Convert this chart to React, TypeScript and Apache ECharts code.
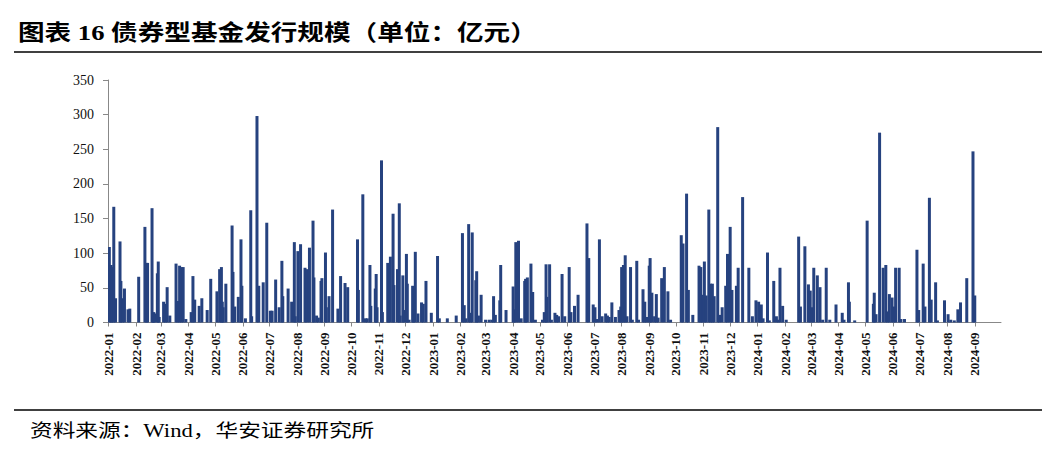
import React, { useEffect, useRef } from "react";
import * as echarts from "echarts";

const issueDates: string[] = [
  "2022-01-02","2022-01-04","2022-01-05","2022-01-07","2022-01-09","2022-01-14","2022-01-15","2022-01-17","2022-01-19","2022-01-23","2022-01-25",
  "2022-02-04","2022-02-11","2022-02-13","2022-02-14","2022-02-19","2022-02-20","2022-02-21","2022-02-22","2022-02-25","2022-02-26","2022-02-27",
  "2022-03-04","2022-03-06","2022-03-08","2022-03-11","2022-03-18","2022-03-20","2022-03-22","2022-03-24","2022-03-26","2022-03-29",
  "2022-04-04","2022-04-06","2022-04-08","2022-04-13","2022-04-16","2022-04-22","2022-04-26",
  "2022-05-03","2022-05-06","2022-05-08","2022-05-09","2022-05-10","2022-05-13","2022-05-20","2022-05-21","2022-05-23","2022-05-27","2022-05-30","2022-05-31",
  "2022-06-04","2022-06-10","2022-06-11","2022-06-17","2022-06-19","2022-06-24","2022-06-28",
  "2022-07-02","2022-07-04","2022-07-08","2022-07-12","2022-07-15","2022-07-16","2022-07-22","2022-07-26","2022-07-29","2022-07-30",
  "2022-08-02","2022-08-05","2022-08-10","2022-08-12","2022-08-15","2022-08-19","2022-08-20","2022-08-23","2022-08-25","2022-08-28","2022-08-29",
  "2022-09-02","2022-09-03","2022-09-06","2022-09-10","2022-09-16","2022-09-19","2022-09-24","2022-09-27",
  "2022-10-08","2022-10-09","2022-10-14","2022-10-17","2022-10-19","2022-10-22","2022-10-23","2022-10-28","2022-10-29","2022-10-30",
  "2022-11-04","2022-11-05","2022-11-11","2022-11-12","2022-11-14","2022-11-17","2022-11-18","2022-11-22","2022-11-24","2022-11-25","2022-11-28","2022-11-29",
  "2022-12-02","2022-12-03","2022-12-05","2022-12-09","2022-12-10","2022-12-12","2022-12-15","2022-12-19","2022-12-21","2022-12-24","2022-12-30",
  "2023-01-06","2023-01-08","2023-01-17","2023-01-27",
  "2023-02-03","2023-02-05","2023-02-07","2023-02-10","2023-02-12","2023-02-14","2023-02-18","2023-02-19","2023-02-21","2023-02-24",
  "2023-03-01","2023-03-05","2023-03-08","2023-03-10","2023-03-12","2023-03-17","2023-03-18","2023-03-24",
  "2023-04-01","2023-04-02","2023-04-04","2023-04-07","2023-04-10","2023-04-14","2023-04-15","2023-04-17","2023-04-21","2023-04-23","2023-04-26",
  "2023-05-04","2023-05-06","2023-05-08","2023-05-09","2023-05-12","2023-05-14","2023-05-18","2023-05-20","2023-05-22","2023-05-26","2023-05-29",
  "2023-06-03","2023-06-05","2023-06-09","2023-06-13","2023-06-23","2023-06-25","2023-06-30",
  "2023-07-02","2023-07-04","2023-07-07","2023-07-10","2023-07-14","2023-07-16","2023-07-18","2023-07-21","2023-07-25","2023-07-29","2023-07-31",
  "2023-08-01","2023-08-03","2023-08-05","2023-08-07","2023-08-11","2023-08-13","2023-08-18","2023-08-20","2023-08-25","2023-08-27","2023-08-29",
  "2023-09-01","2023-09-02","2023-09-04","2023-09-07","2023-09-09","2023-09-11","2023-09-15","2023-09-18","2023-09-22","2023-09-25",
  "2023-10-07","2023-10-09","2023-10-13","2023-10-15","2023-10-20","2023-10-27","2023-10-29","2023-10-31",
  "2023-11-02","2023-11-04","2023-11-07","2023-11-09","2023-11-11","2023-11-13","2023-11-17","2023-11-19","2023-11-22","2023-11-26","2023-11-28",
  "2023-12-01","2023-12-03","2023-12-08","2023-12-10","2023-12-15","2023-12-22","2023-12-26","2023-12-30",
  "2024-01-02","2024-01-04","2024-01-05","2024-01-07","2024-01-12","2024-01-14","2024-01-19","2024-01-22","2024-01-24","2024-01-26","2024-01-29",
  "2024-02-02","2024-02-16","2024-02-18","2024-02-23","2024-02-27","2024-02-29",
  "2024-03-02","2024-03-04","2024-03-08","2024-03-11","2024-03-14","2024-03-18","2024-03-22","2024-03-29",
  "2024-04-05","2024-04-07","2024-04-12","2024-04-13","2024-04-19",
  "2024-05-03","2024-05-10","2024-05-11","2024-05-13","2024-05-17","2024-05-21","2024-05-24","2024-05-26","2024-05-28","2024-05-31",
  "2024-06-02","2024-06-04","2024-06-08","2024-06-10","2024-06-14","2024-06-28","2024-06-30",
  "2024-07-05","2024-07-07","2024-07-12","2024-07-14","2024-07-19","2024-07-21","2024-07-29",
  "2024-08-02","2024-08-05","2024-08-09","2024-08-13","2024-08-16","2024-08-23","2024-08-30",
  "2024-09-01",
];

const issueAmounts: number[] = [
  109,83,80,167,35,117,60,35,49,19,20,
  66,138,86,86,165,8,15,13,71,88,8,
  30,27,51,10,85,31,82,80,80,5,
  15,67,33,24,35,18,63,
  45,77,80,30,22,56,140,73,23,37,120,53,
  6,162,9,298,53,58,144,
  17,17,62,22,89,38,49,30,116,9,
  103,113,79,77,108,147,65,10,7,60,64,
  101,22,38,163,20,67,57,51,
  120,47,185,6,6,83,24,49,70,22,
  234,15,86,18,95,157,54,77,172,10,68,18,
  99,56,4,53,19,102,13,29,27,60,14,
  96,6,6,10,
  129,25,6,142,14,130,61,74,10,40,
  4,4,4,38,11,32,83,18,
  52,19,116,118,6,60,63,65,85,44,4,
  4,15,84,37,84,4,14,11,9,70,9,
  80,15,24,40,143,93,26,
  22,5,120,9,13,10,8,29,8,18,23,
  80,83,97,9,80,4,89,4,48,30,8,
  82,93,43,9,41,7,64,80,45,4,
  126,114,186,47,11,82,80,40,
  88,39,163,56,56,38,282,11,22,53,99,
  138,47,53,79,181,79,9,32,
  30,6,26,6,101,3,60,9,4,79,24,
  4,124,23,110,55,46,
  22,79,68,51,4,79,4,26,
  14,4,58,30,3,
  147,27,43,12,274,79,83,16,41,36,
  23,79,79,5,5,105,18,
  85,23,180,33,58,3,32,
  12,4,3,19,29,64,247,
  39,
];

const axisStart = "2022-01-01";
const axisEnd = "2024-09-30";
const yMin = 0;
const yMax = 350;
const yStep = 50;

const titleText = "图表 16 债券型基金发行规模（单位：亿元）";
const sourceText = "资料来源：Wind，华安证券研究所";

function buildDays(start: string, end: string): string[] {
  const out: string[] = [];
  const s = Date.parse(start + "T00:00:00Z");
  const e = Date.parse(end + "T00:00:00Z");
  for (let t = s; t <= e; t += 86400000) {
    out.push(new Date(t).toISOString().slice(0, 10));
  }
  return out;
}

export default function App() {
  const ref = useRef<HTMLDivElement>(null);
  useEffect(() => {
    if (!ref.current) return;
    const chart = echarts.init(ref.current, null, { renderer: "svg" });
    const days = buildDays(axisStart, axisEnd);
    const amountMap = new Map<string, number>();
    issueDates.forEach((d, i) => amountMap.set(d, issueAmounts[i]));
    const values = days.map((d) => (amountMap.has(d) ? amountMap.get(d)! : "-"));
    const isMonthStart = (_i: number, v: string) => v.endsWith("-01");
    const serif = "'Liberation Serif', 'Times New Roman', serif";
    const cjk = "'Liberation Serif', 'Noto Sans CJK SC', serif";

    chart.setOption({
      animation: false,
      backgroundColor: "#ffffff",
      grid: { left: 108, right: 55, top: 80, bottom: 134.5, containLabel: false },
      xAxis: {
        type: "category",
        data: days,
        boundaryGap: true,
        axisLine: { show: true, lineStyle: { color: "#888888", width: 1 } },
        axisTick: {
          show: true,
          interval: isMonthStart,
          alignWithLabel: true,
          length: 4,
          lineStyle: { color: "#888888" },
        },
        axisLabel: {
          interval: isMonthStart,
          formatter: (v: string) => v.slice(0, 7),
          rotate: 90,
          margin: 10,
          fontFamily: serif,
          fontWeight: "bold",
          fontSize: 13,
          color: "#111111",
        },
        splitLine: { show: false },
      },
      yAxis: {
        type: "value",
        min: yMin,
        max: yMax,
        interval: yStep,
        axisLine: { show: true, lineStyle: { color: "#888888", width: 1 } },
        axisTick: { show: true, length: 5, lineStyle: { color: "#888888" } },
        axisLabel: {
          margin: 14,
          fontFamily: serif,
          fontSize: 14,
          color: "#111111",
        },
        splitLine: { show: false },
      },
      series: [
        {
          type: "bar",
          data: values,
          barWidth: 3,
          itemStyle: { color: "#26427f" },
        },
      ],
      graphic: [
        {
          type: "text",
          left: 18,
          top: 21,
          scaleX: 1.21,
          style: {
            text: titleText,
            font: `bold 22px ${cjk}`,
            fill: "#000000",
          },
        },
        {
          type: "line",
          shape: { x1: 14, y1: 52, x2: 1042, y2: 52 },
          style: { stroke: "#000000", lineWidth: 1.5 },
        },
        {
          type: "line",
          shape: { x1: 14, y1: 410, x2: 1042, y2: 410 },
          style: { stroke: "#000000", lineWidth: 1.5 },
        },
        {
          type: "text",
          left: 30,
          top: 422,
          scaleX: 1.26,
          style: {
            text: sourceText,
            font: `18px ${cjk}`,
            fill: "#000000",
          },
        },
      ],
    });
    return () => chart.dispose();
  }, []);
  return (
    <div
      ref={ref}
      style={{ position: "fixed", left: 0, top: 0, width: 1056, height: 457, background: "#fff" }}
    />
  );
}
